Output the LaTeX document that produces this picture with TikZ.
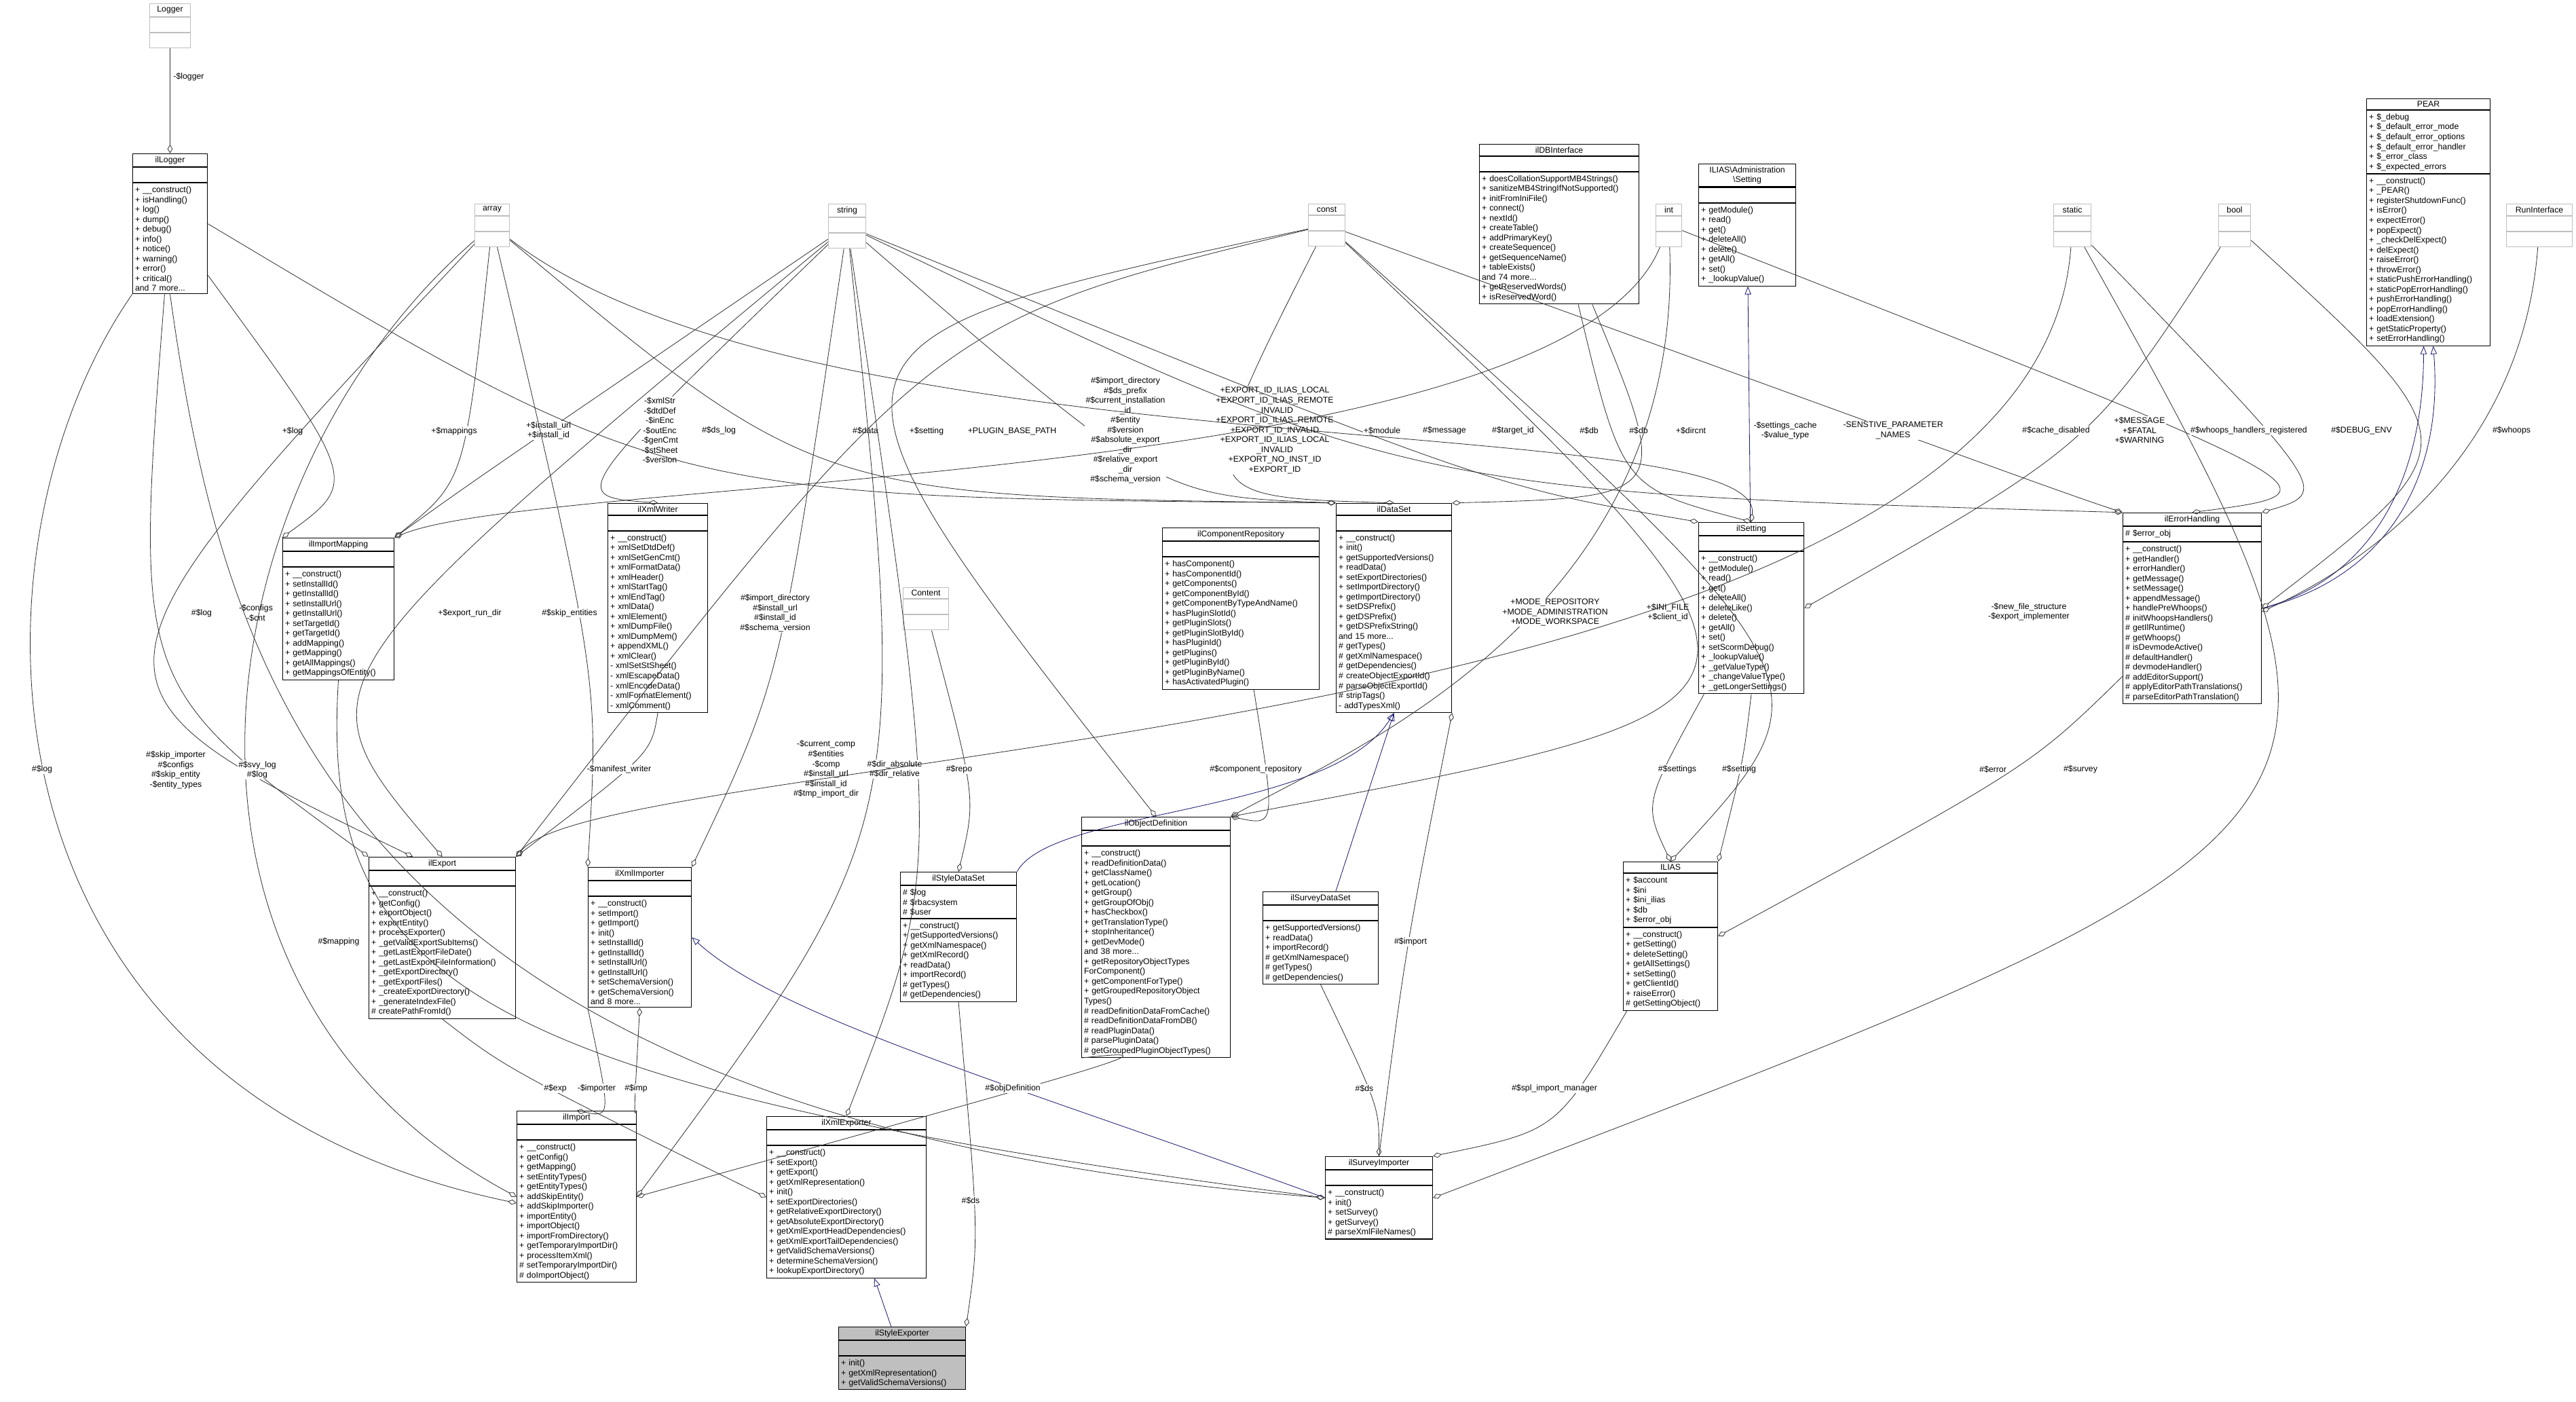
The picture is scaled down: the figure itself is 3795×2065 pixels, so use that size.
\documentclass[tikz,border=0pt]{standalone}
\usepackage{fontspec}
\setmainfont{Liberation Sans}
\usetikzlibrary{arrows.meta,calc,fit}

\definecolor{navyline}{RGB}{25,25,112}
\definecolor{boxgray}{RGB}{191,191,191}

\tikzset{
  cls/.style={draw=black,line width=0.9pt,inner xsep=3pt,inner ysep=3.2pt,
    font=\fontsize{10.5}{12.4}\selectfont},
  ctitle/.style={cls,align=center},
  cpart/.style={cls,align=left},
  ext/.style={draw=boxgray},
  cur/.style={fill=boxgray},
  agg/.style={draw=black!80,line width=0.7pt,-{Diamond[open,length=11pt,width=6.5pt]}},
  inh/.style={draw=navyline,line width=0.7pt,-{Triangle[open,length=10pt,width=8pt]}},
  lbl/.style={fill=white,inner sep=1pt,align=center,font=\fontsize{10.5}{12.4}\selectfont}
}

% class box: [style]{name}{x,y}{width px}{title}{attributes}{methods}
\newcommand{\umlbox}[7][]{%
  \pgfmathsetlengthmacro\cw{#4*0.3mm}%
  \pgfmathsetlengthmacro\tw{#4*0.3mm-6pt}%
  \node[ctitle,#1,minimum width=\cw,text width=\tw,anchor=north west] (#2-t) at (#3) {#5};
  \node[cpart,#1,minimum width=\cw,text width=\tw,anchor=north west] (#2-a) at (#2-t.south west) {\strut#6};
  \node[cpart,#1,minimum width=\cw,text width=\tw,anchor=north west] (#2-m) at (#2-a.south west) {\strut#7};
  \node[fit=(#2-t)(#2-m),inner sep=0pt] (#2) {};
}

% member link through a point: [style]{from}{via}{to}{label}
\newcounter{lbl}
\newcommand{\member}[5][]{%
  \draw[agg,#1] (#2) .. controls ($2*(#3)-0.5*(#2)-0.5*(#4)$) .. (#4);
  \stepcounter{lbl}\node[lbl] (lbl\thelbl) at (#3) {#5};
}

\begin{document}
\begin{tikzpicture}[x=0.03cm,y=-0.03cm]
\useasboundingbox (0,0) rectangle (3795,2065);

% external types
\umlbox[ext]{Logger}{220,5}{60}{Logger}{}{}
\umlbox[ext]{array}{699,300}{51}{array}{}{}
\umlbox[ext]{string}{1220,300}{55}{string}{}{}
\umlbox[ext]{const}{1927,300}{54}{const}{}{}
\umlbox[ext]{int}{2439,300}{38}{int}{}{}
\umlbox[ext]{static}{3025,300}{55}{static}{}{}
\umlbox[ext]{bool}{3268,300}{47}{bool}{}{}
\umlbox[ext]{RunInterface}{3692,300}{97}{RunInterface}{}{}
\umlbox[ext]{Content}{1330,865}{67}{Content}{}{}

% classes
\umlbox{ilLogger}{195,226}{110}{ilLogger}{}{+ \_\_construct()\\+ isHandling()\\+ log()\\+ dump()\\+ debug()\\+ info()\\+ notice()\\+ warning()\\+ error()\\+ critical()\\and 7 more...}
\umlbox{ilDBInterface}{2179,212}{235}{ilDBInterface}{}{+ doesCollationSupportMB4Strings()\\+ sanitizeMB4StringIfNotSupported()\\+ initFromIniFile()\\+ connect()\\+ nextId()\\+ createTable()\\+ addPrimaryKey()\\+ createSequence()\\+ getSequenceName()\\+ tableExists()\\and 74 more...\\+ getReservedWords()\\+ isReservedWord()}
\umlbox{iliasSetting}{2502,241}{143}{ILIAS\textbackslash Administration\\\textbackslash Setting}{}{+ getModule()\\+ read()\\+ get()\\+ deleteAll()\\+ delete()\\+ getAll()\\+ set()\\+ \_lookupValue()}
\umlbox{PEAR}{3486,145}{182}{PEAR}{+ \$\_debug\\+ \$\_default\_error\_mode\\+ \$\_default\_error\_options\\+ \$\_default\_error\_handler\\+ \$\_error\_class\\+ \$\_expected\_errors}{+ \_\_construct()\\+ \_PEAR()\\+ registerShutdownFunc()\\+ isError()\\+ expectError()\\+ popExpect()\\+ \_checkDelExpect()\\+ delExpect()\\+ raiseError()\\+ throwError()\\+ staticPushErrorHandling()\\+ staticPopErrorHandling()\\+ pushErrorHandling()\\+ popErrorHandling()\\+ loadExtension()\\+ getStaticProperty()\\+ setErrorHandling()}
\umlbox{ilImportMapping}{416,792}{164}{ilImportMapping}{}{+ \_\_construct()\\+ setInstallId()\\+ getInstallId()\\+ setInstallUrl()\\+ getInstallUrl()\\+ setTargetId()\\+ getTargetId()\\+ addMapping()\\+ getMapping()\\+ getAllMappings()\\+ getMappingsOfEntity()}
\umlbox{ilXmlWriter}{895,741}{147}{ilXmlWriter}{}{+ \_\_construct()\\+ xmlSetDtdDef()\\+ xmlSetGenCmt()\\+ xmlFormatData()\\+ xmlHeader()\\+ xmlStartTag()\\+ xmlEndTag()\\+ xmlData()\\+ xmlElement()\\+ xmlDumpFile()\\+ xmlDumpMem()\\+ appendXML()\\+ xmlClear()\\- xmlSetStSheet()\\- xmlEscapeData()\\- xmlEncodeData()\\- xmlFormatElement()\\- xmlComment()}
\umlbox{ilComponentRepository}{1712,777}{231}{ilComponentRepository}{}{+ hasComponent()\\+ hasComponentId()\\+ getComponents()\\+ getComponentById()\\+ getComponentByTypeAndName()\\+ hasPluginSlotId()\\+ getPluginSlots()\\+ getPluginSlotById()\\+ hasPluginId()\\+ getPlugins()\\+ getPluginById()\\+ getPluginByName()\\+ hasActivatedPlugin()}
\umlbox{ilDataSet}{1968,741}{170}{ilDataSet}{}{+ \_\_construct()\\+ init()\\+ getSupportedVersions()\\+ readData()\\+ setExportDirectories()\\+ setImportDirectory()\\+ getImportDirectory()\\+ setDSPrefix()\\+ getDSPrefix()\\+ getDSPrefixString()\\and 15 more...\\\# getTypes()\\\# getXmlNamespace()\\\# getDependencies()\\\# createObjectExportId()\\\# parseObjectExportId()\\\# stripTags()\\- addTypesXml()}
\umlbox{ilSetting}{2502,769}{155}{ilSetting}{}{+ \_\_construct()\\+ getModule()\\+ read()\\+ get()\\+ deleteAll()\\+ deleteLike()\\+ delete()\\+ getAll()\\+ set()\\+ setScormDebug()\\+ \_lookupValue()\\+ \_getValueType()\\+ \_changeValueType()\\+ \_getLongerSettings()}
\umlbox{ilErrorHandling}{3127,755}{204}{ilErrorHandling}{\# \$error\_obj}{+ \_\_construct()\\+ getHandler()\\+ errorHandler()\\+ getMessage()\\+ setMessage()\\+ appendMessage()\\+ handlePreWhoops()\\\# initWhoopsHandlers()\\\# getIlRuntime()\\\# getWhoops()\\\# isDevmodeActive()\\\# defaultHandler()\\\# devmodeHandler()\\\# addEditorSupport()\\\# applyEditorPathTranslations()\\\# parseEditorPathTranslation()}
\umlbox{ilExport}{543,1262}{216}{ilExport}{}{+ \_\_construct()\\+ getConfig()\\+ exportObject()\\+ exportEntity()\\+ processExporter()\\+ \_getValidExportSubItems()\\+ \_getLastExportFileDate()\\+ \_getLastExportFileInformation()\\+ \_getExportDirectory()\\+ \_getExportFiles()\\+ \_createExportDirectory()\\+ \_generateIndexFile()\\\# createPathFromId()}
\umlbox{ilXmlImporter}{866,1277}{152}{ilXmlImporter}{}{+ \_\_construct()\\+ setImport()\\+ getImport()\\+ init()\\+ setInstallId()\\+ getInstallId()\\+ setInstallUrl()\\+ getInstallUrl()\\+ setSchemaVersion()\\+ getSchemaVersion()\\and 8 more...}
\umlbox{ilImport}{761,1636}{176}{ilImport}{}{+ \_\_construct()\\+ getConfig()\\+ getMapping()\\+ setEntityTypes()\\+ getEntityTypes()\\+ addSkipEntity()\\+ addSkipImporter()\\+ importEntity()\\+ importObject()\\+ importFromDirectory()\\+ getTemporaryImportDir()\\+ processItemXml()\\\# setTemporaryImportDir()\\\# doImportObject()}
\umlbox{ilXmlExporter}{1129,1644}{235}{ilXmlExporter}{}{+ \_\_construct()\\+ setExport()\\+ getExport()\\+ getXmlRepresentation()\\+ init()\\+ setExportDirectories()\\+ getRelativeExportDirectory()\\+ getAbsoluteExportDirectory()\\+ getXmlExportHeadDependencies()\\+ getXmlExportTailDependencies()\\+ getValidSchemaVersions()\\+ determineSchemaVersion()\\+ lookupExportDirectory()}
\umlbox[cur]{ilStyleExporter}{1235,1954}{187}{ilStyleExporter}{}{+ init()\\+ getXmlRepresentation()\\+ getValidSchemaVersions()}
\umlbox{ilStyleDataSet}{1326,1284}{171}{ilStyleDataSet}{\# \$log\\\# \$rbacsystem\\\# \$user}{+ \_\_construct()\\+ getSupportedVersions()\\+ getXmlNamespace()\\+ getXmlRecord()\\+ readData()\\+ importRecord()\\\# getTypes()\\\# getDependencies()}
\umlbox{ilObjectDefinition}{1593,1203}{219}{ilObjectDefinition}{}{+ \_\_construct()\\+ readDefinitionData()\\+ getClassName()\\+ getLocation()\\+ getGroup()\\+ getGroupOfObj()\\+ hasCheckbox()\\+ getTranslationType()\\+ stopInheritance()\\+ getDevMode()\\and 38 more...\\+ getRepositoryObjectTypes\\ForComponent()\\+ getComponentForType()\\+ getGroupedRepositoryObject\\Types()\\\# readDefinitionDataFromCache()\\\# readDefinitionDataFromDB()\\\# readPluginData()\\\# parsePluginData()\\\# getGroupedPluginObjectTypes()}
\umlbox{ilSurveyDataSet}{1860,1313}{170}{ilSurveyDataSet}{}{+ getSupportedVersions()\\+ readData()\\+ importRecord()\\\# getXmlNamespace()\\\# getTypes()\\\# getDependencies()}
\umlbox{ilSurveyImporter}{1952,1703}{158}{ilSurveyImporter}{}{+ \_\_construct()\\+ init()\\+ setSurvey()\\+ getSurvey()\\\# parseXmlFileNames()}
\umlbox{ILIAS}{2391,1269}{139}{ILIAS}{+ \$account\\+ \$ini\\+ \$ini\_ilias\\+ \$db\\+ \$error\_obj}{+ \_\_construct()\\+ getSetting()\\+ deleteSetting()\\+ getAllSettings()\\+ setSetting()\\+ getClientId()\\+ raiseError()\\\# getSettingObject()}

% inheritance
\draw[inh] (ilStyleExporter) -- (ilXmlExporter);
\draw[inh] (ilSurveyImporter.west) .. controls (1500,1600) and (1150,1500) .. (ilXmlImporter.east);
\draw[inh] (ilStyleDataSet.north east) .. controls (1550,1190) and (1960,1200) .. (ilDataSet.south);
\draw[inh] (ilSurveyDataSet) -- (ilDataSet.south);
\draw[inh] (ilSetting) -- (iliasSetting);
\draw[inh] (ilErrorHandling.east) .. controls (3500,850) and (3570,700) .. ([xshift=-6pt]PEAR.south);
\draw[inh] (ilErrorHandling.east) .. controls (3520,850) and (3600,700) .. ([xshift=6pt]PEAR.south);

% members
\draw[agg] (Logger) -- (ilLogger);
\node[lbl] (lblLogger) at (278,113) {-\$logger};
\member{ilLogger}{431,635}{ilImportMapping.north west}{+\$log}
\member{array}{669,635}{ilImportMapping.north east}{+\$mappings}
\member{string}{808,634}{ilImportMapping.north east}{+\$install\_url\\+\$install\_id}
\member{string}{972,634}{ilXmlWriter.north}{-\$xmlStr\\-\$dtdDef\\-\$inEnc\\-\$outEnc\\-\$genCmt\\-\$stSheet\\-\$version}
\member{ilLogger.east}{1059,634}{ilDataSet.north west}{\#\$ds\_log}
\member{array}{1275,634}{ilDataSet.north west}{\#\$data}
\member{ilLogger}{297,903}{ilExport.north west}{\#\$log}
\member{array}{377,903}{ilExport.110}{-\$configs\\-\$cnt}
\member{string}{692,903}{ilExport.north}{+\$export\_run\_dir}
\member{array}{839,903}{ilXmlImporter.north west}{\#\$skip\_entities}
\member{string}{1142,903}{ilXmlImporter.north east}{\#\$import\_directory\\\#\$install\_url\\\#\$install\_id\\\#\$schema\_version}
\draw[agg] (ilLogger.south west) .. controls (-60,800) and (-60,1600) .. ([yshift=-8pt]ilImport.west);
\node[lbl] (lblImpLog) at (62,1133) {\#\$log};
\draw[agg] (array) .. controls (300,700) and (180,1450) .. (ilImport.west);
\node[lbl] (lblSkip) at (259,1134) {\#\$skip\_importer\\\#\$configs\\\#\$skip\_entity\\-\$entity\_types};
\draw[agg] (ilLogger.south) .. controls (330,1000) and (500,1650) .. (ilSurveyImporter.west);
\node[lbl] (lblSvyLog) at (379,1134) {\#\$svy\_log\\\#\$log};
\draw[agg] (ilImportMapping.south) .. controls (470,1450) and (700,1600) .. (ilSurveyImporter.west);
\node[lbl] (lblMapping) at (499,1387) {\#\$mapping};
\member{ilXmlWriter.south}{912,1133}{ilExport.north east}{-\$manifest\_writer}
\member{ilExport.south}{818,1603}{ilXmlExporter.west}{\#\$exp}
\member{ilXmlImporter.south west}{879,1603}{ilImport.north}{-\$importer}
\member{ilImport.north east}{937,1603}{ilXmlImporter.south}{\#\$imp}
\member{string}{1217,1133}{ilImport.east}{-\$current\_comp\\\#\$entities\\-\$comp\\\#\$install\_url\\\#\$install\_id\\\#\$tmp\_import\_dir}
\member{ilObjectDefinition.south west}{1492,1603}{ilImport.east}{\#\$objDefinition}
\member{string}{1318,1133}{ilXmlExporter.north}{\#\$dir\_absolute\\\#\$dir\_relative}
\member{Content}{1413,1133}{ilStyleDataSet.north}{\#\$repo}
\member{ilComponentRepository}{1850,1133}{ilObjectDefinition.north east}{\#\$component\_repository}
\member{ilStyleDataSet.south}{1430,1768}{ilStyleExporter.north east}{\#\$ds}
\member{ilSurveyDataSet.south}{2010,1603}{ilSurveyImporter.north}{\#\$ds}
\member{ilSurveyImporter.north}{2078,1387}{ilDataSet.south east}{\#\$import}
\member{ILIAS}{2290,1603}{ilSurveyImporter.north east}{\#\$spl\_import\_manager}
\member{static}{3065,1133}{ilSurveyImporter.east}{\#\$survey}
\member{ilSetting}{2471,1133}{ILIAS.north}{\#\$settings}
\member{ilSetting.south}{2562,1133}{ILIAS.north east}{\#\$setting}
\member{ilErrorHandling}{2936,1133}{ILIAS.east}{\#\$error}
\member{const}{2457,902}{ILIAS.north}{+\$INI\_FILE\\+\$client\_id}
\member{const}{1365,635}{ilExport.north east}{+\$setting}
\member{const}{1491,635}{ilObjectDefinition.north}{+PLUGIN\_BASE\_PATH}
\member{string}{1658,634}{ilDataSet.north west}{\#\$import\_directory\\\#\$ds\_prefix\\\#\$current\_installation\\\_id\\\#\$entity\\\#\$version\\\#\$absolute\_export\\\_dir\\\#\$relative\_export\\\_dir\\\#\$schema\_version}
\member{const}{1878,634}{ilDataSet.north}{+EXPORT\_ID\_ILIAS\_LOCAL\\+EXPORT\_ID\_ILIAS\_REMOTE\\\_INVALID\\+EXPORT\_ID\_ILIAS\_REMOTE\\+EXPORT\_ID\_INVALID\\+EXPORT\_ID\_ILIAS\_LOCAL\\\_INVALID\\+EXPORT\_NO\_INST\_ID\\+EXPORT\_ID}
\member{string}{2036,634}{ilSetting.north west}{+\$module}
\member{string}{2128,634}{ilErrorHandling.north west}{\#\$message}
\draw[agg] (int) .. controls (2300,720) and (800,700) .. (ilImportMapping.north east);
\node[lbl] (lblTarget) at (2229,634) {\#\$target\_id};
\member{ilDBInterface}{2341,634}{ilDataSet.north east}{\#\$db}
\member{ilDBInterface}{2414,634}{ilSetting.north}{\#\$db}
\draw[agg] (int) .. controls (2480,900) and (2000,1100) .. (ilObjectDefinition.north east);
\node[lbl] (lblDircnt) at (2491,634) {+\$dircnt};
\member{const}{2291,902}{ilObjectDefinition.north east}{+MODE\_REPOSITORY\\+MODE\_ADMINISTRATION\\+MODE\_WORKSPACE}
\draw[agg] (array) .. controls (1200,700) and (2600,600) .. (ilSetting.north);
\node[lbl] (lblCache) at (2630,634) {-\$settings\_cache\\-\$value\_type};
\member{const}{2789,634}{ilErrorHandling.north west}{-SENSTIVE\_PARAMETER\\\_NAMES}
\member{bool}{3029,634}{ilSetting.east}{\#\$cache\_disabled}
\member{int}{3152,634}{ilErrorHandling.north}{+\$MESSAGE\\+\$FATAL\\+\$WARNING}
\member{static}{3313,634}{ilErrorHandling.north east}{\#\$whoops\_handlers\_registered}
\member{bool}{3479,634}{ilErrorHandling.east}{\#\$DEBUG\_ENV}
\draw[agg] (RunInterface) .. controls (3720,620) and (3550,800) .. ([yshift=-4pt]ilErrorHandling.east);
\node[lbl] (lblWhoops) at (3700,634) {\#\$whoops};
\draw[agg] (static) .. controls (3000,1100) and (900,1100) .. (ilExport.north east);
\node[lbl] (lblNewFile) at (2989,901) {-\$new\_file\_structure\\-\$export\_implementer};
\end{tikzpicture}
\end{document}
